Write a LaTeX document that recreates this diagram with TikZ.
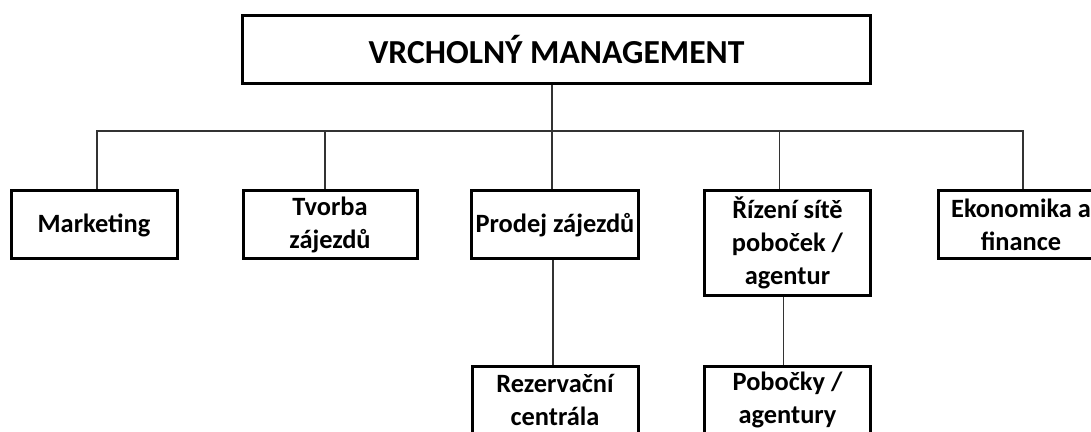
\documentclass[tikz,border=0pt]{standalone}
\usepackage{fontspec}
\setmainfont{Carlito}
\usetikzlibrary{positioning}

\begin{document}
\begin{tikzpicture}[
  x=0.5pt, y=-0.5pt,
  box/.style={draw, line width=1.5pt, align=center, inner sep=2pt,
              font=\fontsize{13.2}{16.5}\selectfont\bfseries,
              minimum width=83pt, minimum height=34pt},
  topbox/.style={box, font=\fontsize{16.8}{19}\selectfont\bfseries,
                 minimum width=314pt, minimum height=34pt},
  tall/.style={box, minimum height=52.5pt},
  ln/.style={line width=0.6pt, draw=black!80}
]
\clip (0,0) rectangle (1091,432);
\fill[white] (0,0) rectangle (1091,432);

\node[topbox] (top) at (556.5,49.5) {VRCHOLNÝ MANAGEMENT};
\coordinate (bus) at (552,131);

\node[box]  (mk) at (94,225)   {Marketing};
\node[box, minimum width=87pt] (tv) at (330,225) {Tvorba\\zájezdů};
\node[box]  (pr) at (555,225)  {Prodej zájezdů};
\node[tall] (ri) at (787.5,243)  {Řízení sítě\\pobo\v{c}ek /\\agentur};
\node[box]  (ek) at (1021,225) {Ekonomika a\\finance};

\node[box, minimum height=34pt] (rz) at (555,400)   {Rezervační\\centrála};
\node[box, minimum height=34pt] (po) at (787.5,400) {Pobo\v{c}ky /\\agentury};

\draw[ln] (top.south -| bus) -- (bus);
\draw[ln] ([xshift=1.5pt]mk.north) |- (bus) -| ([xshift=1pt]ek.north);
\draw[ln] ([xshift=-2.5pt]tv.north) -- ([xshift=-2.5pt]tv.north |- bus);
\draw[ln] ([xshift=-1.5pt]pr.north) -- ([xshift=-1.5pt]pr.north |- bus);
\draw[ln] ([xshift=-4pt]ri.north) -- ([xshift=-4pt]ri.north |- bus);

\draw[ln] ([xshift=-1pt]pr.south) -- ([xshift=-1pt]rz.north);
\draw[ln] ([xshift=-2pt]ri.south) -- ([xshift=-2pt]po.north);
\end{tikzpicture}
\end{document}
